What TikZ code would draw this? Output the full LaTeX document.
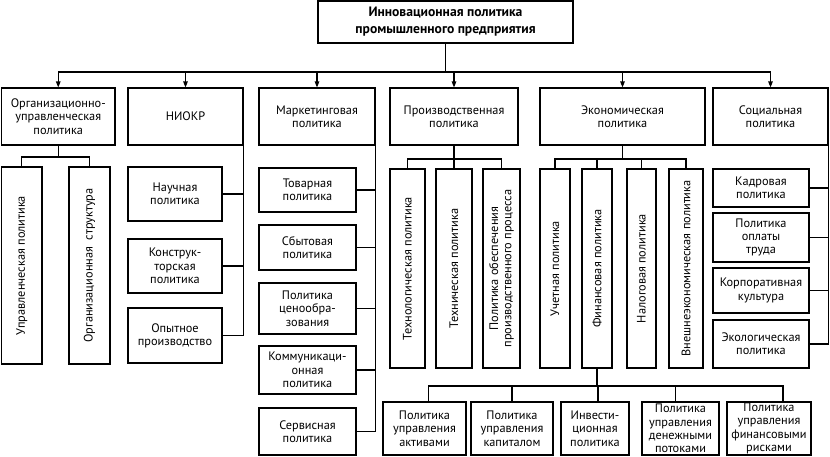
\documentclass[tikz,border=0pt]{standalone}
\usepackage{fontspec}
\setmainfont{PT Sans}
\usetikzlibrary{arrows.meta}
\tikzset{
  box/.style={draw, line width=1.1pt, rectangle, align=center, inner sep=1pt,
    font=\fontsize{12.3}{13.3}\selectfont},
  vbox/.style={box, rotate=90},
  titlebox/.style={box, font=\fontsize{13.6}{17}\selectfont\bfseries},
  conn/.style={line width=1.1pt},
  arr/.style={conn, -{Triangle[length=6pt,width=4.5pt]}},
}
\newcommand\hb[6]{\node[box, minimum width={#4-#2}, minimum height={#5-#3}] (#1) at ({(#2+#4)/2},{(#3+#5)/2}) {#6};}
\newcommand\vb[6]{\node[vbox, minimum width={#5-#3}, minimum height={#4-#2}] (#1) at ({(#2+#4)/2},{(#3+#5)/2}) {#6};}
\begin{document}
\begin{tikzpicture}[x=1pt,y=-1pt]
\useasboundingbox (0,0) rectangle (830,456);
% title
\node[titlebox, minimum width=255, minimum height=42] (top) at (445.5,22) {Инновационная политика\\промышленного предприятия};
% level 1
\hb{org}{1.5}{88}{115}{145}{Организационно-\\управленческая\\политика}
\hb{niokr}{128}{88}{243}{145}{НИОКР}
\hb{mark}{259}{88}{375}{145}{Маркетинговая\\политика}
\hb{proizv}{390}{88}{518}{145}{Производственная\\политика}
\hb{econ}{540}{88}{705}{145}{Экономическая\\политика}
\hb{soc}{713}{88}{828}{145}{Социальная\\политика}
% org children
\vb{upr}{1.5}{167}{42}{364}{Управленческая политика}
\vb{orgs}{69}{167}{110}{364}{Организационная\ \ структура}
% niokr children
\hb{nauch}{128}{167}{222}{221}{Научная\\политика}
\hb{konstr}{128}{239}{222}{293}{Конструк-\\торская\\политика}
\hb{opyt}{128}{308}{222}{363}{Опытное\\производство}
% marketing children
\hb{tov}{259}{168}{356}{212}{Товарная\\политика}
\hb{sbyt}{259}{225}{356}{270}{Сбытовая\\политика}
\hb{cen}{259}{283}{356}{334}{Политика\\ценообра-\\зования}
\hb{komm}{259}{346}{356}{394}{Коммуникаци-\\онная\\политика}
\hb{serv}{259}{408}{356}{455}{Сервисная\\политика}
% production children
\vb{tech}{390}{169}{425}{368}{Технологическая политика}
\vb{techn}{436}{169}{472}{368}{Техническая политика}
\vb{obesp}{483}{169}{520}{368}{Политика обеспечения\\производственного процесса}
% economic children
\vb{uch}{540}{169}{570}{368}{Учетная политика}
\vb{fin}{582}{169}{612}{368}{Финансовая политика}
\vb{nal}{627}{169}{656}{368}{Налоговая политика}
\vb{vnesh}{669}{169}{703}{368}{Внешнеэкономическая политика}
% social children
\hb{kadr}{713}{169}{809}{207}{Кадровая\\политика}
\hb{oplat}{713}{213}{809}{262}{Политика\\оплаты\\труда}
\hb{korp}{713}{268}{809}{313}{Корпоративная\\культура}
\hb{ekol}{713}{320}{809}{368}{Экологическая\\политика}
% financial children
\hb{akt}{383}{402}{466}{455}{Политика\\управления\\активами}
\hb{kap}{471}{402}{553}{455}{Политика\\управления\\капиталом}
\hb{inv}{561}{402}{629}{455}{Инвести-\\ционная\\политика}
\hb{den}{642}{402}{719}{455}{Политика\\управления\\денежными\\потоками}
\hb{risk}{727}{402}{811}{455}{Политика\\управления\\финансовыми\\рисками}
% bus coordinates
\coordinate (bus) at (0,72);
\coordinate (ob) at (0,157);
\coordinate (pb) at (0,159);
\coordinate (fb) at (0,386);
% top connectors
\draw[conn] (top.south) -- (top.south |- bus);
\draw[conn] (org.north |- bus) -- (soc.north |- bus);
\foreach \n in {org,niokr,mark,proizv,econ,soc}
  \draw[arr] (\n.north |- bus) -- (\n.north);
% org
\draw[conn] (org.south) -- (org.south |- ob);
\draw[conn] (upr.east) -- (upr.east |- ob) -- (orgs.east |- ob) -- (orgs.east);
% niokr
\draw[conn] (niokr.south east) -- (niokr.south east |- opyt.east);
\foreach \c in {nauch,konstr,opyt}
  \draw[conn] (\c.east) -- (\c.east -| niokr.south east);
% marketing
\draw[conn] (mark.south east) -- (mark.south east |- serv.east);
\foreach \c in {tov,sbyt,cen,komm,serv}
  \draw[conn] (\c.east) -- (\c.east -| mark.south east);
% production
\draw[conn] (proizv.south) -- (proizv.south |- pb);
\draw[conn] (tech.east) -- (tech.east |- pb) -- (obesp.east |- pb) -- (obesp.east);
\draw[conn] (techn.east) -- (techn.east |- pb);
% economic
\draw[conn] (econ.south) -- (econ.south |- pb);
\draw[conn] (uch.east) -- (uch.east |- pb) -- (vnesh.east |- pb) -- (vnesh.east);
\draw[conn] (fin.east) -- (fin.east |- pb);
\draw[conn] (nal.east) -- (nal.east |- pb);
% social
\draw[conn] (soc.south east) -- (soc.south east |- ekol.east);
\foreach \c in {kadr,oplat,korp,ekol}
  \draw[conn] (\c.east) -- (\c.east -| soc.south east);
% financial
\draw[conn] (fin.west) -- (fin.west |- fb);
\draw[conn] ([xshift=4pt]akt.north) -- ([xshift=4pt]akt.north |- fb) -- ([xshift=14pt]risk.north |- fb) -- ([xshift=14pt]risk.north);
\draw[conn] (kap.north) -- (kap.north |- fb);
\draw[conn] ([xshift=3pt]inv.north) -- ([xshift=3pt]inv.north |- fb);
\draw[conn] ([xshift=-5pt]den.north) -- ([xshift=-5pt]den.north |- fb);
\end{tikzpicture}
\end{document}
